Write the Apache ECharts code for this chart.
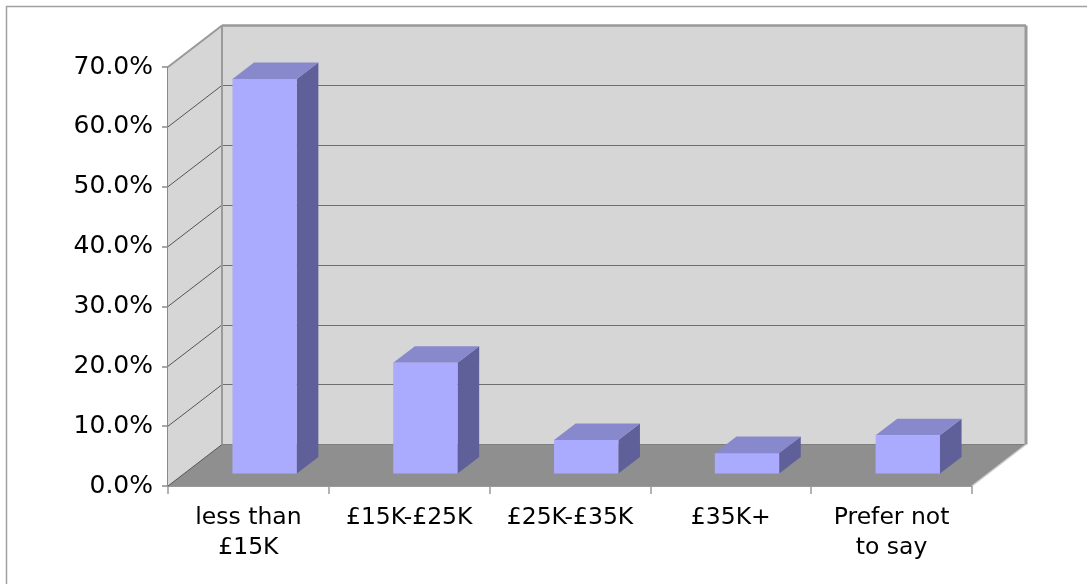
<!DOCTYPE html>
<html>
<head>
<meta charset="utf-8">
<script src="https://cdn.jsdelivr.net/npm/echarts@6/dist/echarts.min.js"></script>
<style>
html, body { margin: 0; padding: 0; background: #ffffff; }
#chart { width: 1087px; height: 584px; }
</style>
</head>
<body>
<div id="chart"></div>
<script>
// Household income bands and share of respondents (%)
const categories = ['less than\n£15K', '£15K-£25K', '£25K-£35K', '£35K+', 'Prefer not\nto say'];
const shares = [65.9, 18.5, 5.6, 3.4, 6.4];
const yTicks = [0, 10, 20, 30, 40, 50, 60, 70];

// Layout of the 3D box: front plane and the depth offset to the back wall
const W = 1087, H = 584;
const FRONT = { left: 168, top: 67, right: 972, bottom: 486 };
const DX = 54, DY = -41.5;
const BAR_NEAR = 0.30, BAR_FAR = 0.70, BAR_WIDTH = 0.40;

const COLORS = {
  wall: '#d6d6d6',
  floor: '#8f8f8f',
  edge: '#9a9a9a',
  grid: '#6e6e6e',
  barFront: '#aaaaff',
  barTop: '#8888cc',
  barSide: '#5f5f99'
};

const chart = echarts.init(document.getElementById('chart'), null, { renderer: 'canvas' });

// Left side wall, floor and the box edges, built from the front grid rectangle
function renderBox(params, api) {
  const cs = params.coordSys;
  const L = cs.x, T = cs.y, R = cs.x + cs.width, B = cs.y + cs.height;
  const children = [
    { type: 'polygon', shape: { points: [[L, T], [L + DX, T + DY], [L + DX, B + DY], [L, B]] },
      style: { fill: COLORS.wall } },
    { type: 'polygon', shape: { points: [[L, B], [R, B], [R + DX, B + DY], [L + DX, B + DY]] },
      style: { fill: COLORS.floor } }
  ];
  yTicks.forEach(function (t) {
    const y = api.coord([0, t])[1];
    children.push({ type: 'line', shape: { x1: L, y1: y, x2: L + DX, y2: y + DY },
      style: { stroke: '#555555', lineWidth: 1 } });
  });
  children.push(
    { type: 'line', shape: { x1: L, y1: T, x2: L + DX, y2: T + DY }, style: { stroke: COLORS.edge, lineWidth: 2 } },
    { type: 'line', shape: { x1: L + DX, y1: T + DY, x2: L + DX, y2: B + DY }, style: { stroke: COLORS.edge, lineWidth: 2 } },
    { type: 'line', shape: { x1: L + DX, y1: T + DY, x2: R + DX, y2: T + DY }, style: { stroke: COLORS.edge, lineWidth: 2.5 } },
    { type: 'line', shape: { x1: R + DX, y1: T + DY, x2: R + DX, y2: B + DY }, style: { stroke: COLORS.edge, lineWidth: 3 } },
    { type: 'line', shape: { x1: R, y1: B, x2: R + DX, y2: B + DY }, style: { stroke: '#cfcfcf', lineWidth: 1.5 } }
  );
  return { type: 'group', children: children };
}

// One 3D column: front face, top and right side
function renderBar(params, api) {
  const idx = api.value(0), v = api.value(1);
  const base = api.coord([idx, 0]);
  const top = api.coord([idx, v]);
  const bw = api.size([1, 0])[0] * BAR_WIDTH;
  const nx = BAR_NEAR * DX, ny = BAR_NEAR * DY;
  const sx = (BAR_FAR - BAR_NEAR) * DX, sy = (BAR_FAR - BAR_NEAR) * DY;
  const x0 = base[0] + nx - bw / 2, x1 = x0 + bw;
  const yb = base[1] + ny, yt = top[1] + ny;
  return {
    type: 'group',
    children: [
      { type: 'polygon', shape: { points: [[x1, yb], [x1 + sx, yb + sy], [x1 + sx, yt + sy], [x1, yt]] },
        style: { fill: COLORS.barSide } },
      { type: 'polygon', shape: { points: [[x0, yt], [x1, yt], [x1 + sx, yt + sy], [x0 + sx, yt + sy]] },
        style: { fill: COLORS.barTop } },
      { type: 'rect', shape: { x: x0, y: yt, width: bw, height: yb - yt },
        style: { fill: COLORS.barFront } }
    ]
  };
}

const option = {
  animation: false,
  backgroundColor: '#ffffff',
  graphic: [
    { type: 'rect', shape: { x: 6.5, y: 6.5, width: 1200, height: 700 },
      style: { fill: null, stroke: '#a0a0a0', lineWidth: 1.5 }, z: -10 }
  ],
  grid: [
    { left: FRONT.left, top: FRONT.top, right: W - FRONT.right, bottom: H - FRONT.bottom },
    { left: FRONT.left + DX, top: FRONT.top + DY, right: W - (FRONT.right + DX), bottom: H - (FRONT.bottom + DY),
      show: true, backgroundColor: COLORS.wall, borderWidth: 0 }
  ],
  xAxis: [
    {
      type: 'category', gridIndex: 0, data: categories, boundaryGap: true,
      axisLine: { show: true, lineStyle: { color: COLORS.edge, width: 2 } },
      axisTick: { show: true, length: 8, lineStyle: { color: COLORS.edge, width: 1.5 } },
      axisLabel: { interval: 0, margin: 17, color: '#000000', fontSize: 23.5, lineHeight: 30,
        fontFamily: 'DejaVu Sans', align: 'center' },
      splitLine: { show: false }
    },
    { type: 'value', gridIndex: 1, min: 0, max: 1, show: false }
  ],
  yAxis: [
    {
      type: 'value', gridIndex: 0, min: 0, max: 70, interval: 10,
      axisLine: { show: true, lineStyle: { color: '#8a8a8a', width: 2 } },
      axisTick: { show: true, length: 6, lineStyle: { color: '#8a8a8a', width: 1.5 } },
      axisLabel: { margin: 15, color: '#000000', fontSize: 25, fontFamily: 'DejaVu Sans',
        formatter: function (v) { return v.toFixed(1) + '%'; } },
      splitLine: { show: false }
    },
    {
      type: 'value', gridIndex: 1, min: 0, max: 70, interval: 10,
      axisLine: { show: false }, axisTick: { show: false }, axisLabel: { show: false },
      splitLine: { show: true, lineStyle: { color: COLORS.grid, width: 1 } }
    }
  ],
  series: [
    {
      type: 'custom', name: 'box', xAxisIndex: 0, yAxisIndex: 0, z: 1, clip: false,
      silent: true, renderItem: renderBox, data: [[0, 0]]
    },
    {
      type: 'custom', name: 'Share', xAxisIndex: 0, yAxisIndex: 0, z: 3, clip: false,
      renderItem: renderBar,
      data: shares.map(function (v, i) { return [i, v]; })
    }
  ]
};

chart.setOption(option);
</script>
</body>
</html>
